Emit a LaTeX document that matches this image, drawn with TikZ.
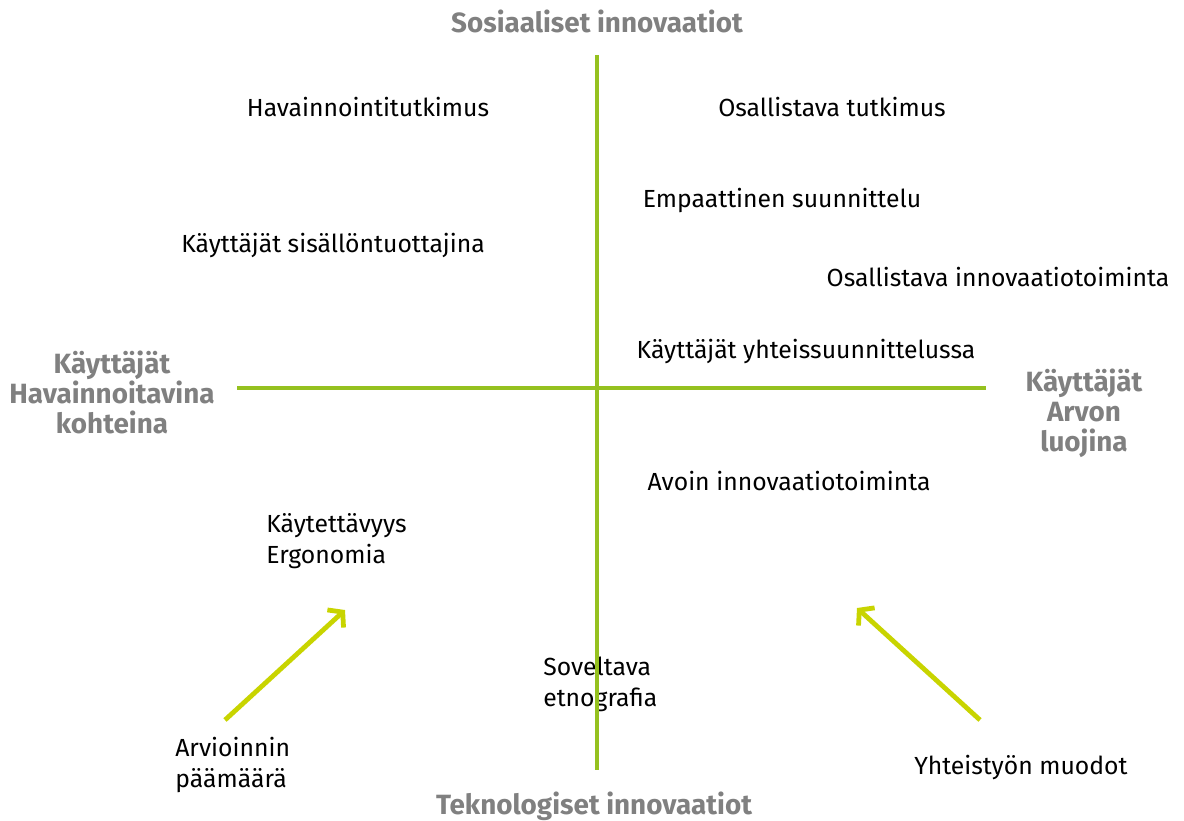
\documentclass[tikz,border=0pt]{standalone}
\usepackage{fontspec}
\setmainfont{Fira Sans}
\usetikzlibrary{arrows.meta}
\definecolor{axisgreen}{HTML}{95C11F}
\definecolor{arrowlime}{HTML}{C8D400}
\definecolor{headgrey}{HTML}{808080}
\begin{document}
\begin{tikzpicture}[
  x=0.025cm,
  y=-0.025cm,
  item/.style={
    text=black,
    font=\fontsize{17.6}{22}\selectfont,
    inner sep=0pt
  },
  itemleft/.style={
    item,
    align=left,
    anchor=west
  },
  heading/.style={
    text=headgrey,
    align=center,
    font=\fontsize{19.8}{21.3}\selectfont\bfseries,
    inner sep=0pt
  },
  axis/.style={axisgreen, line width=3.4pt},
  arrow/.style={
    arrowlime,
    line width=3.4pt,
    -{Straight Barb[length=7pt,width=17pt,line width=3.4pt]}
  }
]
\useasboundingbox (0,0) rectangle (1184,821);

% Axis ends.
\coordinate (top) at (597,55);
\coordinate (bottom) at (597,770);
\coordinate (left) at (237,388);
\coordinate (right) at (986,388);

% Axis headings.
\node[heading] (social) at (597,21) {Sosiaaliset innovaatiot};
\node[heading] (techno) at (594,806) {Teknologiset innovaatiot};
\node[heading] (observed) at (112,392) {Käyttäjät\\Havainnoitavina\\kohteina};
\node[heading] (creators) at (1084,413) {Käyttäjät\\Arvon\\luojina};

% Methods in the quadrants.
\node[item] (observation) at (368,107) {Havainnointitutkimus};
\node[item] (participatory) at (832,107) {Osallistava tutkimus};
\node[item] (empathic) at (782,200) {Empaattinen suunnittelu};
\node[item] (content) at (333,245) {Käyttäjät sisällöntuottajina};
\node[item] (partinnov) at (998,277) {Osallistava innovaatiotoiminta};
\node[item] (codesign) at (806,351) {Käyttäjät yhteissuunnittelussa};
\node[item] (openinnov) at (789,481) {Avoin innovaatiotoiminta};
\node[itemleft] (usability) at (266,541) {Käytettävyys\\Ergonomia};
\node[itemleft] (ethno) at (543,684) {Soveltava\\etnografia};
\node[itemleft] (goal) at (175,765) {Arvioinnin\\päämäärä};
\node[item] (cooperation) at (1021,767) {Yhteistyön muodot};

% Arrow ends.
\coordinate (goalstart) at (225,720);
\coordinate (goalend) at (345,610);
\coordinate (coopstart) at (980,720);
\coordinate (coopend) at (857,608);

% Axes.
\draw[axis] (top) -- (bottom);
\draw[axis] (left) -- (right);

% Diagonal arrows.
\draw[arrow] (goalstart) -- (goalend);
\draw[arrow] (coopstart) -- (coopend);

\end{tikzpicture}
\end{document}
